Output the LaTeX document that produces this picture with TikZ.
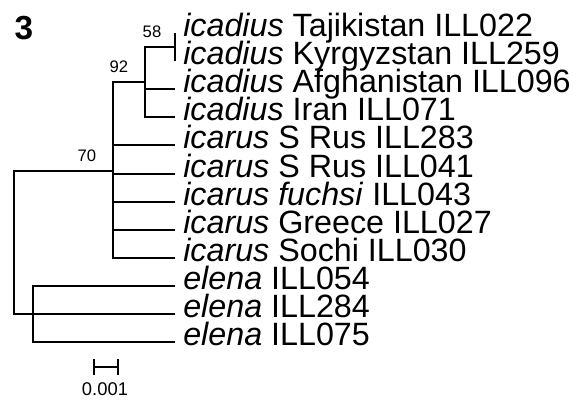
\documentclass[tikz,border=0pt]{standalone}
\usepackage{fontspec}
\setmainfont{Liberation Sans}
\usetikzlibrary{arrows.meta}
\begin{document}
\begin{tikzpicture}[x=0.75pt,y=-0.75pt,
  branch/.style={draw, line width=1.5pt, line join=miter},
  leaf/.style={anchor=mid west, inner sep=0pt, font=\fontsize{24.2}{28}\selectfont},
  boot/.style={inner sep=0pt, font=\fontsize{12.5}{14}\selectfont},
  scalelabel/.style={inner sep=0pt, font=\fontsize{13.8}{15}\selectfont},
  panel/.style={inner sep=0pt, font=\bfseries\fontsize{25}{28}\selectfont}]
\useasboundingbox (0,0) rectangle (578,405);

% panel label
\node[panel] (panel) at (24,28) {3};

% leaf tips
\coordinate (e1) at (175,33);
\coordinate (e2) at (175,61.1);
\coordinate (e3) at (175,89.2);
\coordinate (e4) at (175,117.3);
\coordinate (e5) at (175,145.4);
\coordinate (e6) at (175,173.5);
\coordinate (e7) at (175,201.6);
\coordinate (e8) at (175,229.7);
\coordinate (e9) at (175,257.8);
\coordinate (e10) at (175,285.9);
\coordinate (e11) at (175,314);
\coordinate (e12) at (175,342.1);

% leaf labels
\node[leaf] (t1) at (183,33) {\textit{icadius} Tajikistan ILL022};
\node[leaf] (t2) at (183,61.1) {\textit{icadius} Kyrgyzstan ILL259};
\node[leaf] (t3) at (183,89.2) {\textit{icadius} Afghanistan ILL096};
\node[leaf] (t4) at (183,117.3) {\textit{icadius} Iran ILL071};
\node[leaf] (t5) at (183,145.4) {\textit{icarus} S Rus ILL283};
\node[leaf] (t6) at (183,173.5) {\textit{icarus} S Rus ILL041};
\node[leaf] (t7) at (183,201.6) {\textit{icarus fuchsi} ILL043};
\node[leaf] (t8) at (183,229.7) {\textit{icarus} Greece ILL027};
\node[leaf] (t9) at (183,257.8) {\textit{icarus} Sochi ILL030};
\node[leaf] (t10) at (183,285.9) {\textit{elena} ILL054};
\node[leaf] (t11) at (183,314) {\textit{elena} ILL284};
\node[leaf] (t12) at (183,342.1) {\textit{elena} ILL075};

% internal nodes
\coordinate (A) at (175,47.05);
\coordinate (B) at (145,82.2);
\coordinate (C) at (113,170.5);
\coordinate (D) at (33,314);
\coordinate (R) at (14,242);

% branches
\path[branch] (A) |- (e1) (A) |- (e2);
\path[branch] (B) |- (A) (B) |- (e3) (B) |- (e4);
\path[branch] (C) |- (B) (C) |- (e5) (C) |- (e6) (C) |- (e7) (C) |- (e8) (C) |- (e9);
\path[branch] (D) |- (e10) (D) -- (e11) (D) |- (e12);
\path[branch] (R) |- (C) (R) |- (D);

% bootstrap values
\node[boot] (b58) at (152,32) {58};
\node[boot] (b92) at (119,67) {92};
\node[boot] (b70) at (87,156) {70};

% scale bar
\coordinate (s1) at (93,367);
\coordinate (s2) at (119,367);
\draw[line width=1.5pt, {Bar[width=12pt]}-{Bar[width=12pt]}] (s1) -- (s2);
\node[scalelabel] (sl) at (105,389) {0.001};
\end{tikzpicture}
\end{document}
